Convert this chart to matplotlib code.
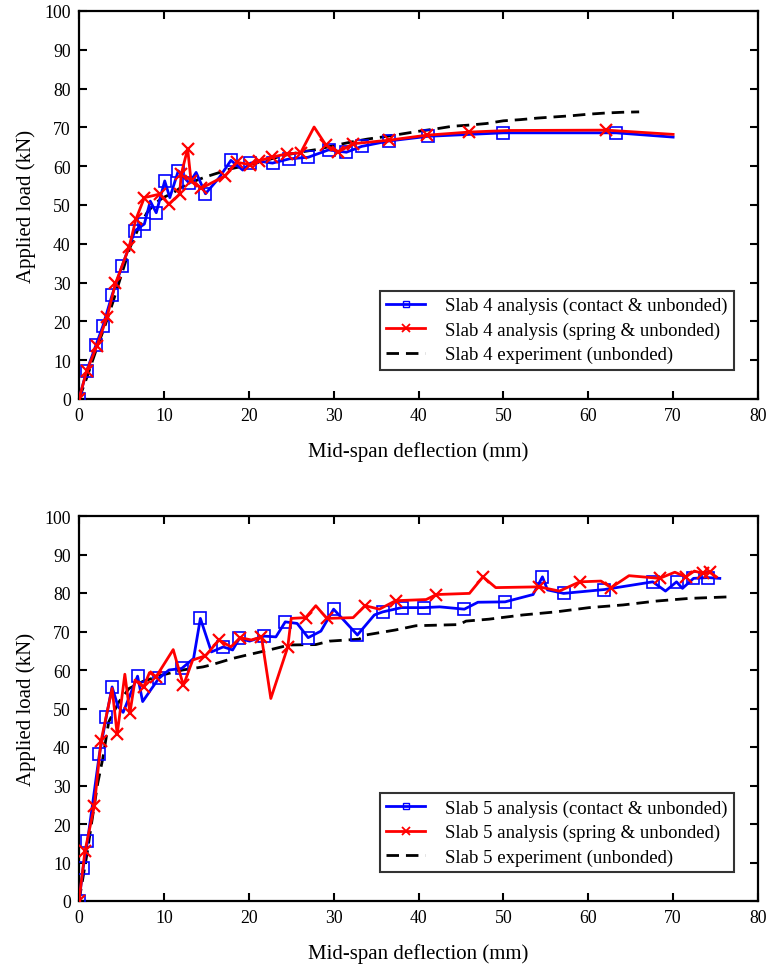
import matplotlib
matplotlib.use("Agg")
import matplotlib.pyplot as plt
from matplotlib.lines import Line2D

plt.rcParams['font.family'] = ['Liberation Serif', 'DejaVu Serif']

# ---------------- Slab 4 ----------------
s4_contact_x = [0, 0.9, 2.0, 2.8, 3.9, 5.1, 6.6, 7.7, 8.4, 9.1, 10.1, 10.7, 11.7, 13.0, 13.8, 14.9,
                16.5, 17.9, 19.3, 20.2, 21.5, 22.8, 24.8, 27.0, 29.4, 31.5, 33.3, 36.5, 41.1, 50.0, 63.3, 70.0]
s4_contact_y = [0, 7.2, 13.9, 18.7, 26.8, 34.4, 43.4, 45.1, 51.0, 48.0, 56.2, 51.9, 58.8, 55.6, 58.4, 52.9,
                57.0, 61.5, 59.0, 60.8, 61.2, 60.8, 61.9, 62.3, 64.2, 63.6, 65.1, 66.5, 67.7, 68.6, 68.6, 67.5]
s4_contact_marks = [0, 1, 2, 3, 4, 5, 6, 7, 9, 10, 12, 13, 15, 17, 19, 21, 22, 23, 24, 25, 26, 27, 28, 29, 30]

s4_spring_x = [0, 0.9, 2.1, 3.3, 4.3, 5.9, 6.7, 7.7, 9.5, 10.6, 11.85, 12.05, 12.8, 13.2, 14.4, 17.2,
               18.6, 20.2, 21.2, 22.7, 24.5, 26.1, 27.7, 29.1, 30.5, 32.3, 36.5, 41.0, 46.0, 50.6, 62.1, 70.0]
s4_spring_y = [0, 7.2, 13.6, 21.1, 29.8, 39.1, 46.3, 51.9, 52.8, 50.2, 52.8, 58.0, 64.5, 56.2, 54.3, 57.5,
               61.0, 60.4, 61.4, 62.3, 63.2, 63.4, 70.1, 65.4, 63.6, 65.8, 66.7, 68.0, 68.8, 69.2, 69.3, 68.2]
s4_spring_marks = list(range(0, 22)) + [23, 24, 25, 26, 27, 28, 30]

s4_exp_x = [0, 1, 2, 3, 4, 5, 6, 7, 8, 9, 10, 11, 12, 13, 14, 15, 16, 18, 20, 22, 24, 26, 28, 30,
            32, 34, 36, 38, 40, 42, 44, 46, 48, 50, 52, 54, 56, 58, 60, 62, 64, 66]
s4_exp_y = [0, 6, 12.5, 18.5, 25, 32, 39, 44, 48, 50.5, 52, 53, 54.5, 55.5, 56.5, 57.3, 58, 59.4, 60.3,
            61.5, 62.7, 63.6, 64.3, 65.3, 66.2, 67.0, 67.6, 68.3, 69.0, 69.6, 70.3, 70.6, 71.0, 71.7,
            72.0, 72.4, 72.7, 73.0, 73.4, 73.7, 73.9, 74.0]

# ---------------- Slab 5 ----------------
s5_contact_x = [0, 0.5, 1.0, 2.4, 3.2, 3.9, 4.6, 5.2, 6.2, 6.9, 7.5, 8.5, 9.4, 10.6, 12.1, 13.5, 14.3,
                15.6, 17.0, 18.1, 18.9, 20.1, 21.8, 23.2, 24.3, 25.7, 27.0, 28.5, 30.0, 32.8, 34.8, 35.8,
                38.0, 40.6, 42.5, 45.4, 47.0, 50.2, 53.5, 54.6, 55.2, 57.1, 61.9, 67.6, 69.1, 70.4, 71.1,
                72.4, 74.1, 75.5]
s5_contact_y = [0, 8.7, 15.5, 38.1, 47.7, 55.6, 50.5, 49.0, 54.5, 58.4, 51.8, 55.0, 57.8, 60.0, 60.4, 63.0,
                73.4, 64.7, 66.0, 65.2, 68.2, 67.5, 68.8, 68.6, 72.5, 72.1, 68.4, 70.1, 75.8, 69.1, 74.3,
                75.1, 76.2, 76.2, 76.4, 75.8, 77.6, 77.7, 79.6, 84.2, 80.8, 79.9, 80.9, 82.9, 80.5, 82.9,
                81.2, 83.8, 84.0, 83.8]
s5_contact_marks = [0, 1, 2, 3, 4, 5, 9, 12, 14, 16, 18, 20, 22, 24, 26, 28, 29, 31, 32, 33, 35, 37, 39,
                    41, 42, 43, 45, 47, 48]

s5_spring_x = [0, 0.7, 1.8, 2.6, 3.9, 4.5, 5.4, 6.0, 6.6, 7.6, 8.3, 9.1, 11.1, 12.3, 13.4, 14.9, 16.5,
               17.9, 19.0, 20.3, 21.5, 22.6, 24.6, 25.0, 26.7, 27.9, 29.2, 32.3, 33.7, 35.4, 37.3, 40.9,
               42.1, 46.0, 47.6, 49.1, 54.2, 56.6, 59.0, 61.5, 62.7, 64.8, 68.4, 70.2, 71.5, 72.5, 73.5,
               74.3, 75.1]
s5_spring_y = [0, 12.9, 24.6, 41.6, 55.2, 43.3, 58.9, 48.8, 57.4, 55.5, 59.3, 58.3, 65.3, 56.0, 62.6, 63.7,
               67.8, 66.0, 68.4, 67.8, 68.6, 52.6, 66.0, 73.4, 73.6, 76.7, 73.4, 73.6, 76.7, 75.8, 78.0,
               78.3, 79.6, 79.9, 84.2, 81.4, 81.6, 80.5, 82.9, 83.1, 81.4, 84.5, 83.8, 85.4, 84.2, 85.7,
               85.1, 85.4, 84.2]
s5_spring_marks = [0, 1, 2, 3, 5, 7, 9, 11, 13, 15, 16, 18, 20, 22, 24, 26, 28, 30, 32, 34, 36, 38, 40,
                   42, 44, 46, 47]

s5_exp_x = [0, 1.0, 1.5, 2.2, 2.8, 3.5, 4.7, 5.9, 7.5, 9.8, 12.2, 14.6, 15.7, 18.1, 20.0, 22.4, 24.8,
            27.9, 29.5, 33.0, 33.8, 37.3, 39.7, 44.8, 45.6, 48.3, 52.3, 56.2, 60.1, 64.1, 68.0, 71.9, 76.6]
s5_exp_y = [0, 13, 20.5, 30.5, 37, 46.5, 51.7, 55.2, 57.0, 58.7, 60.0, 60.8, 61.4, 63.0, 64.0, 65.2,
            66.5, 66.6, 67.5, 68.0, 69.1, 70.4, 71.5, 71.8, 72.7, 73.2, 74.3, 75.1, 76.2, 76.9, 77.9,
            78.6, 79.0]

x_ticks = [0, 10, 20, 30, 40, 50, 60, 70, 80]
y_ticks = [0, 10, 20, 30, 40, 50, 60, 70, 80, 90, 100]
x_label = "Mid-span deflection (mm)"
y_label = "Applied load (kN)"

W, H = 769, 970
fig = plt.figure(figsize=(W / 100, H / 100), dpi=100)

def ax_rect(x0, y0, x1, y1):
    return [x0 / W, 1 - y1 / H, (x1 - x0) / W, (y1 - y0) / H]

ax1 = fig.add_axes(ax_rect(79, 12, 758, 400))
ax2 = fig.add_axes(ax_rect(79, 517, 758, 902))

def draw(ax, slab, cx, cy, cm, sx, sy, sm, ex, ey):
    ax.plot(ex, ey, color='black', lw=2.0, ls=(0, (4.5, 2.5)), zorder=2)
    ax.plot(cx, cy, color='#0000ff', lw=2.0, marker='s', markersize=8, markerfacecolor='none',
            markeredgecolor='#0000ff', markeredgewidth=1.2, markevery=cm, zorder=3)
    ax.plot(sx, sy, color='#ff0000', lw=2.0, marker='x', markersize=8, markeredgecolor='#ff0000',
            markeredgewidth=1.6, markevery=sm, zorder=4)
    handles = [
        Line2D([], [], color='#0000ff', lw=2.0, marker='s', markersize=5, markerfacecolor='none',
               markeredgewidth=1.0),
        Line2D([], [], color='#ff0000', lw=2.0, marker='x', markersize=6, markeredgewidth=1.3),
        Line2D([], [], color='black', lw=2.0, ls=(0, (4.5, 2.5))),
    ]
    labels = [f"Slab {slab} analysis (contact & unbonded)",
              f"Slab {slab} analysis (spring & unbonded)",
              f"Slab {slab} experiment (unbonded)"]
    leg = ax.legend(handles, labels, loc='lower right', bbox_to_anchor=(0.965, 0.075),
                    fontsize=13.5, frameon=True, fancybox=False, shadow=False,
                    handlelength=2.1, handletextpad=1.05, labelspacing=0.38, borderpad=0.35,
                    borderaxespad=0)
    leg.get_frame().set_edgecolor('black')
    leg.get_frame().set_linewidth(1.5)
    ax.set_xlim(0, 80)
    ax.set_ylim(0, 100)
    ax.set_xticks(x_ticks)
    ax.set_yticks(y_ticks)
    ax.tick_params(direction='in', length=6, width=1.5, top=True, right=True, labelsize=12.8, pad=6)
    for sp in ax.spines.values():
        sp.set_linewidth(1.6)
    ax.set_xlabel(x_label, fontsize=15, labelpad=12)
    ax.set_ylabel(y_label, fontsize=15, labelpad=6)

draw(ax1, 4, s4_contact_x, s4_contact_y, s4_contact_marks, s4_spring_x, s4_spring_y, s4_spring_marks,
     s4_exp_x, s4_exp_y)
draw(ax2, 5, s5_contact_x, s5_contact_y, s5_contact_marks, s5_spring_x, s5_spring_y, s5_spring_marks,
     s5_exp_x, s5_exp_y)

fig.savefig("out.png", dpi=100)
